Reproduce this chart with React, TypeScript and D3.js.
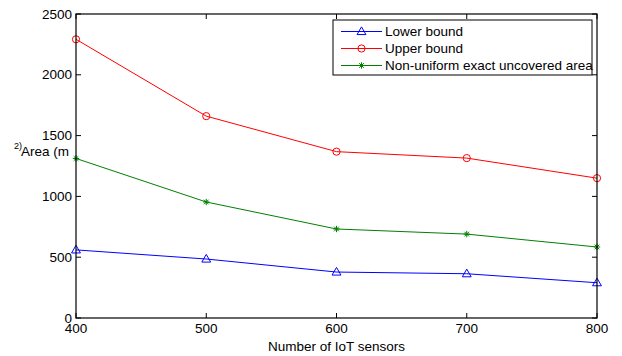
import * as d3 from "d3";

const sensors = [400, 500, 600, 700, 800];
const lowerBound = [560, 485, 378, 364, 290];
const upperBound = [2292, 1660, 1368, 1315, 1150];
const nonUniform = [1312, 954, 732, 690, 584];
const xTicks = [400, 500, 600, 700, 800];
const yTicks = [0, 500, 1000, 1500, 2000, 2500];

const W = 622;
const H = 356;
const margin = { top: 14, right: 25, bottom: 38, left: 76 };
const font = "'Liberation Sans', Arial, Helvetica, sans-serif";

const x = d3.scaleLinear().domain([400, 800]).range([margin.left, W - margin.right]);
const y = d3.scaleLinear().domain([0, 2500]).range([H - margin.bottom, margin.top]);

type Marker = "triangle" | "circle" | "star";

const series: { name: string; values: number[]; color: string; marker: Marker }[] = [
  { name: "Lower bound", values: lowerBound, color: "#0000ff", marker: "triangle" },
  { name: "Upper bound", values: upperBound, color: "#ff0000", marker: "circle" },
  { name: "Non-uniform exact uncovered area", values: nonUniform, color: "#008000", marker: "star" },
];

function MarkerShape({ kind, cx, cy, color }: { kind: Marker; cx: number; cy: number; color: string }) {
  if (kind === "circle") {
    return <circle cx={cx} cy={cy} r={3.6} fill="none" stroke={color} strokeWidth={1} />;
  }
  if (kind === "triangle") {
    const p = d3.symbol(d3.symbolTriangle, 34)()!;
    return <path d={p} transform={`translate(${cx},${cy + 0.5})`} fill="none" stroke={color} strokeWidth={1} />;
  }
  const r = 3.2;
  return (
    <g stroke={color} strokeWidth={1}>
      <line x1={cx - r} y1={cy} x2={cx + r} y2={cy} />
      <line x1={cx} y1={cy - r} x2={cx} y2={cy + r} />
      <line x1={cx - r * 0.72} y1={cy - r * 0.72} x2={cx + r * 0.72} y2={cy + r * 0.72} />
      <line x1={cx - r * 0.72} y1={cy + r * 0.72} x2={cx + r * 0.72} y2={cy - r * 0.72} />
    </g>
  );
}

export default function App() {
  const x0 = margin.left;
  const x1 = W - margin.right;
  const y0 = H - margin.bottom;
  const y1 = margin.top;
  const line = d3
    .line<number>()
    .x((_, i) => x(sensors[i]))
    .y((d) => y(d));

  const legend = { x: 333, y: 20, w: 259, h: 55 };

  return (
    <svg width={W} height={H} style={{ position: "absolute", left: 0, top: 0 }} fontFamily={font}>
      <rect width={W} height={H} fill="#fff" />

      {series.map((s) => (
        <g key={s.name}>
          <path d={line(s.values)!} fill="none" stroke={s.color} strokeWidth={1} />
          {s.values.map((v, i) => (
            <MarkerShape key={i} kind={s.marker} cx={x(sensors[i])} cy={y(v)} color={s.color} />
          ))}
        </g>
      ))}

      {/* box and ticks */}
      <rect x={x0} y={y1} width={x1 - x0} height={y0 - y1} fill="none" stroke="#000" strokeWidth={1.2} />
      {xTicks.map((t) => (
        <g key={t}>
          <line x1={x(t)} x2={x(t)} y1={y0} y2={y0 - 5} stroke="#000" />
          <line x1={x(t)} x2={x(t)} y1={y1} y2={y1 + 5} stroke="#000" />
          <text x={x(t)} y={y0 + 14.5} fontSize={13.5} textAnchor="middle" fill="#000">
            {t}
          </text>
        </g>
      ))}
      {yTicks.map((t) => (
        <g key={t}>
          <line x1={x0} x2={x0 + 5} y1={y(t)} y2={y(t)} stroke="#000" />
          <line x1={x1} x2={x1 - 5} y1={y(t)} y2={y(t)} stroke="#000" />
          <text x={x0 - 4} y={y(t) + 4.5} fontSize={13.5} textAnchor="end" fill="#000">
            {t}
          </text>
        </g>
      ))}

      <text x={(x0 + x1) / 2} y={H - 5} fontSize={13.5} textAnchor="middle" fill="#000">
        Number of IoT sensors
      </text>
      <text x={14} y={149} fontSize={9} fill="#000">
        2)
      </text>
      <text x={21} y={156} fontSize={13.5} fill="#000">
        Area (m
      </text>

      {/* legend */}
      <rect x={legend.x} y={legend.y} width={legend.w} height={legend.h} fill="#fff" stroke="#000" strokeWidth={1} />
      {series.map((s, i) => {
        const ly = legend.y + 11.5 + i * 17;
        return (
          <g key={s.name}>
            <line x1={legend.x + 8} x2={legend.x + 49} y1={ly} y2={ly} stroke={s.color} strokeWidth={1} />
            <MarkerShape kind={s.marker} cx={legend.x + 28.5} cy={ly} color={s.color} />
            <text x={legend.x + 52} y={ly + 4.5} fontSize={13.5} fill="#000">
              {s.name}
            </text>
          </g>
        );
      })}
    </svg>
  );
}
